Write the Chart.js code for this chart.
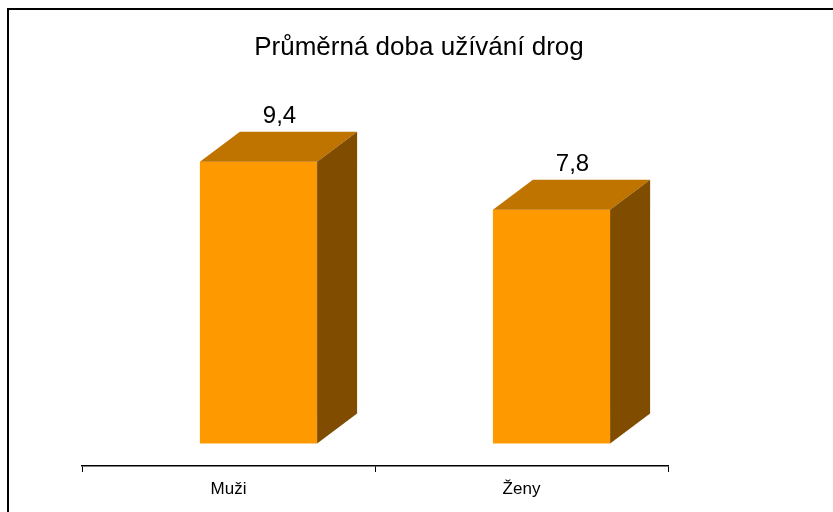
<!DOCTYPE html>
<html>
<head>
<meta charset="utf-8">
<script src="https://cdn.jsdelivr.net/npm/chart.js@4"></script>
<style>
  html, body { margin: 0; padding: 0; background: #fff; }
</style>
</head>
<body>
<canvas id="chart" width="833" height="512"></canvas>
<script>
const titleText = 'Průměrná doba užívání drog';
const categories = ['Muži', 'Ženy'];
const avgYears = [9.4, 7.8];
const yMax = 12;

const frontColor = '#FF9900';
const topColor = '#C07400';
const sideColor = '#7F4C00';
const fontFamily = '"Liberation Sans", Arial, sans-serif';

// 3d look: depth of the bar and how far the floor sits behind the axis
const depthX = 40;
const depthY = 30;
const floorDx = depthX * 0.75;
const floorDy = depthY * 0.75;

const fillPoly = (ctx, pts, color) => {
  ctx.beginPath();
  ctx.moveTo(pts[0][0], pts[0][1]);
  pts.slice(1).forEach(p => ctx.lineTo(p[0], p[1]));
  ctx.closePath();
  ctx.fillStyle = color;
  ctx.fill();
};

const frame = {
  id: 'frame',
  beforeDraw(chart) {
    const ctx = chart.ctx;
    ctx.save();
    ctx.fillStyle = '#fff';
    ctx.fillRect(0, 0, chart.width, chart.height);
    ctx.strokeStyle = '#000';
    ctx.lineWidth = 2;
    ctx.beginPath();
    ctx.moveTo(7, 9);
    ctx.lineTo(chart.width, 9);
    ctx.moveTo(8, 8);
    ctx.lineTo(8, chart.height);
    ctx.stroke();
    ctx.restore();
  }
};

const bar3d = {
  id: 'bar3d',
  afterDatasetsDraw(chart) {
    const ctx = chart.ctx;
    const meta = chart.getDatasetMeta(0);
    ctx.save();
    meta.data.forEach((bar, i) => {
      const { x, y, base, width } = bar.getProps(['x', 'y', 'base', 'width'], true);
      const left = x - width / 2 + floorDx;
      const right = left + width;
      const top = y - floorDy;
      const bottom = base - floorDy;

      ctx.fillStyle = frontColor;
      ctx.fillRect(left, top, width, bottom - top);
      fillPoly(ctx, [[left, top], [left + depthX, top - depthY], [right + depthX, top - depthY], [right, top]], topColor);
      fillPoly(ctx, [[right, top], [right + depthX, top - depthY], [right + depthX, bottom - depthY], [right, bottom]], sideColor);

      ctx.font = '24px ' + fontFamily;
      ctx.fillStyle = '#000';
      ctx.textAlign = 'center';
      ctx.textBaseline = 'alphabetic';
      ctx.fillText(String(avgYears[i]).replace('.', ','), left + (width + depthX) / 2 + 1, top - depthY - 9);
    });
    ctx.restore();
  }
};

new Chart(document.getElementById('chart'), {
  type: 'bar',
  data: {
    labels: categories,
    datasets: [{
      data: avgYears,
      backgroundColor: 'rgba(0,0,0,0)',
      categoryPercentage: 1,
      barPercentage: 0.4
    }]
  },
  options: {
    responsive: false,
    animation: false,
    layout: { padding: { left: 5, right: 0, top: 0, bottom: 0 } },
    plugins: {
      legend: { display: false },
      tooltip: { enabled: false },
      title: {
        display: true,
        text: titleText,
        color: '#000',
        font: { family: fontFamily, size: 26, weight: 'normal', lineHeight: 1.2 },
        padding: { top: 32, bottom: 43 }
      }
    },
    scales: {
      x: {
        grid: {
          offset: true,
          drawOnChartArea: false,
          drawTicks: true,
          tickLength: 6,
          color: '#000'
        },
        border: { display: true, color: '#000', width: 1.5 },
        ticks: {
          color: '#000',
          padding: 7,
          font: { family: fontFamily, size: 17 }
        },
        afterFit: s => { s.height = 46; }
      },
      y: {
        min: 0,
        max: yMax,
        grid: { display: false },
        border: { display: false },
        ticks: { display: false },
        afterFit: s => { s.width = 77; }
      },
      y2: {
        position: 'right',
        grid: { display: false },
        border: { display: false },
        ticks: { display: false },
        afterFit: s => { s.width = 165; }
      }
    }
  },
  plugins: [frame, bar3d]
});
</script>
</body>
</html>
